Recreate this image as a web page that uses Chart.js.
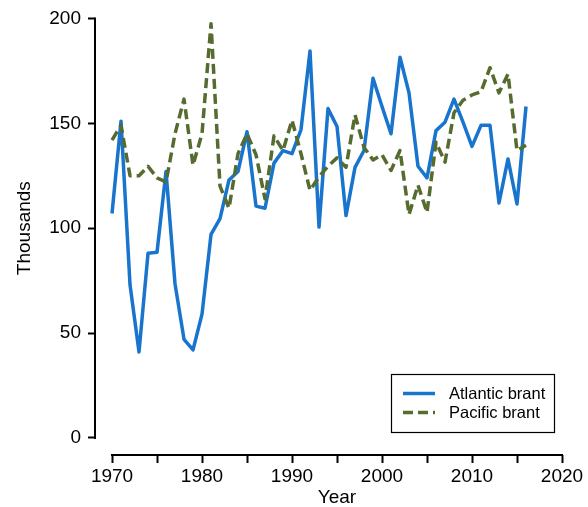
<!DOCTYPE html>
<html>
<head>
<meta charset="utf-8">
<script src="https://cdn.jsdelivr.net/npm/chart.js@4.4.1/dist/chart.umd.min.js"></script>
<style>
  html, body { margin: 0; padding: 0; background: #fff; }
  #wrap { width: 588px; height: 507px; }
</style>
</head>
<body>
<div id="wrap"><canvas id="c" width="588" height="507"></canvas></div>
<script>
// Winter counts of brant (thousands of birds), 1970-2016
const years = [
  1970, 1971, 1972, 1973, 1974, 1975, 1976, 1977, 1978, 1979,
  1980, 1981, 1982, 1983, 1984, 1985, 1986, 1987, 1988, 1989,
  1990, 1991, 1992, 1993, 1994, 1995, 1996, 1997, 1998, 1999,
  2000, 2001, 2002, 2003, 2004, 2005, 2006, 2007, 2008, 2009,
  2010, 2011, 2012, 2013, 2014, 2015, 2016
];
const atlantic = [
  107, 151, 73, 41, 88, 88.5, 127, 73.5, 47, 42,
  59, 97, 104.5, 123, 127, 146, 110.5, 109.5, 131, 137,
  135.5, 147, 184.5, 100.5, 157, 148.5, 106, 129, 137, 171.5,
  158, 145, 181.5, 164.5, 129.5, 124, 146.5, 150.5, 161.5, 150.5,
  139, 149, 149, 112, 133, 111.5, 158
];
const pacific = [
  142, 149, 125, 125, 129.5, 124, 122, 145, 161.5, 130,
  145, 197.5, 120, 109.5, 135.5, 145, 135, 114, 144, 137,
  151.5, 135.5, 118, 124.5, 129.5, 133.5, 129, 154, 138.5, 132.5,
  135, 127.5, 137, 106.5, 120.5, 107.5, 141, 131.5, 155, 161,
  163.5, 165, 176.5, 164.5, 173.5, 137, 139.5
];
const seriesNames = ['Atlantic brant', 'Pacific brant'];
const xTickValues = [1970, 1975, 1980, 1985, 1990, 1995, 2000, 2005, 2010, 2015, 2020];
const yTickValues = [0, 50, 100, 150, 200];
const xTitle = 'Year';
const yTitle = 'Thousands';

const FONT = "'Liberation Sans', Arial, Helvetica, sans-serif";
const BLUE = '#1874CD';
const GREEN = '#556B2F';

const toPoints = (vals) => years.map((yr, i) => ({ x: yr, y: vals[i] }));

// Axis spines that stop at the first/last tick, plus the two axis titles
const spines = {
  id: 'spines',
  afterDraw(chart) {
    const { ctx, chartArea, scales } = chart;
    const xs = scales.x, ys = scales.y;
    ctx.save();
    ctx.strokeStyle = '#000';
    ctx.lineWidth = 2;
    ctx.lineCap = 'butt';
    const y0 = ys.getPixelForValue(yTickValues[0]);
    const y1 = ys.getPixelForValue(yTickValues[yTickValues.length - 1]);
    const x0 = xs.getPixelForValue(xTickValues[0]);
    const x1 = xs.getPixelForValue(xTickValues[xTickValues.length - 1]);
    ctx.beginPath();
    ctx.moveTo(chartArea.left, y0 + 1);
    ctx.lineTo(chartArea.left, y1 - 1);
    ctx.stroke();
    ctx.beginPath();
    ctx.moveTo(x0 - 1, chartArea.bottom);
    ctx.lineTo(x1 + 1, chartArea.bottom);
    ctx.stroke();

    ctx.fillStyle = '#000';
    ctx.font = '19px ' + FONT;
    ctx.textAlign = 'center';
    ctx.textBaseline = 'middle';
    ctx.fillText(xTitle, (x0 + x1) / 2, chartArea.bottom + 43);
    ctx.translate(chartArea.left - 70, (y0 + y1) / 2);
    ctx.rotate(-Math.PI / 2);
    ctx.fillText(yTitle, 0, 0);
    ctx.restore();
  }
};

// Boxed legend in the lower right of the plot
const boxLegend = {
  id: 'boxLegend',
  afterDraw(chart) {
    const { ctx, chartArea } = chart;
    const left = chartArea.right - 171, top = chartArea.bottom - 81;
    const w = 163, h = 58;
    ctx.save();
    ctx.fillStyle = '#fff';
    ctx.fillRect(left, top, w, h);
    ctx.strokeStyle = '#000';
    ctx.lineWidth = 1.2;
    ctx.strokeRect(left + 0.5, top + 0.5, w, h);
    ctx.font = '16.5px ' + FONT;
    ctx.textBaseline = 'middle';
    ctx.textAlign = 'left';
    chart.data.datasets.forEach((ds, i) => {
      const cy = top + 19.5 + i * 19;
      ctx.strokeStyle = ds.borderColor;
      ctx.lineWidth = ds.borderWidth;
      ctx.setLineDash(ds.borderDash || []);
      ctx.beginPath();
      ctx.moveTo(left + 12, cy);
      ctx.lineTo(left + 44, cy);
      ctx.stroke();
      ctx.setLineDash([]);
      ctx.fillStyle = '#000';
      ctx.fillText(ds.label, left + 58, cy + 1);
    });
    ctx.restore();
  }
};

new Chart(document.getElementById('c'), {
  type: 'line',
  data: {
    datasets: [
      {
        label: seriesNames[0],
        data: toPoints(atlantic),
        borderColor: BLUE,
        borderWidth: 3.5,
        borderJoinStyle: 'round',
        pointRadius: 0,
        tension: 0,
        fill: false,
        order: 1
      },
      {
        label: seriesNames[1],
        data: toPoints(pacific),
        borderColor: GREEN,
        borderWidth: 3.5,
        borderDash: [10, 5],
        borderJoinStyle: 'round',
        pointRadius: 0,
        tension: 0,
        fill: false,
        order: 0
      }
    ]
  },
  options: {
    responsive: false,
    animation: false,
    devicePixelRatio: 1,
    layout: { padding: { left: 0, top: 13, right: 26, bottom: 0 } },
    plugins: {
      legend: { display: false },
      tooltip: { enabled: false }
    },
    scales: {
      x: {
        type: 'linear',
        min: 1968.11,
        max: 2020,
        afterFit(axis) { axis.height = 52; },
        afterBuildTicks(axis) { axis.ticks = xTickValues.map(v => ({ value: v })); },
        border: { display: false },
        grid: {
          display: true,
          drawOnChartArea: false,
          drawTicks: true,
          tickLength: 8,
          tickWidth: 2,
          tickColor: '#000'
        },
        ticks: {
          autoSkip: false,
          maxRotation: 0,
          padding: 2,
          color: '#000',
          font: { family: FONT, size: 19 },
          callback: (v) => (v % 10 === 0 ? String(v) : '')
        }
      },
      y: {
        type: 'linear',
        min: -8.15,
        max: 200,
        afterFit(axis) { axis.width = 95; },
        afterBuildTicks(axis) { axis.ticks = yTickValues.map(v => ({ value: v })); },
        border: { display: false },
        grid: {
          display: true,
          drawOnChartArea: false,
          drawTicks: true,
          tickLength: 7,
          tickWidth: 2,
          tickColor: '#000'
        },
        ticks: {
          padding: 7,
          color: '#000',
          font: { family: FONT, size: 19 },
          callback: (v) => String(v)
        }
      }
    }
  },
  plugins: [spines, boxLegend]
});
</script>
</body>
</html>
